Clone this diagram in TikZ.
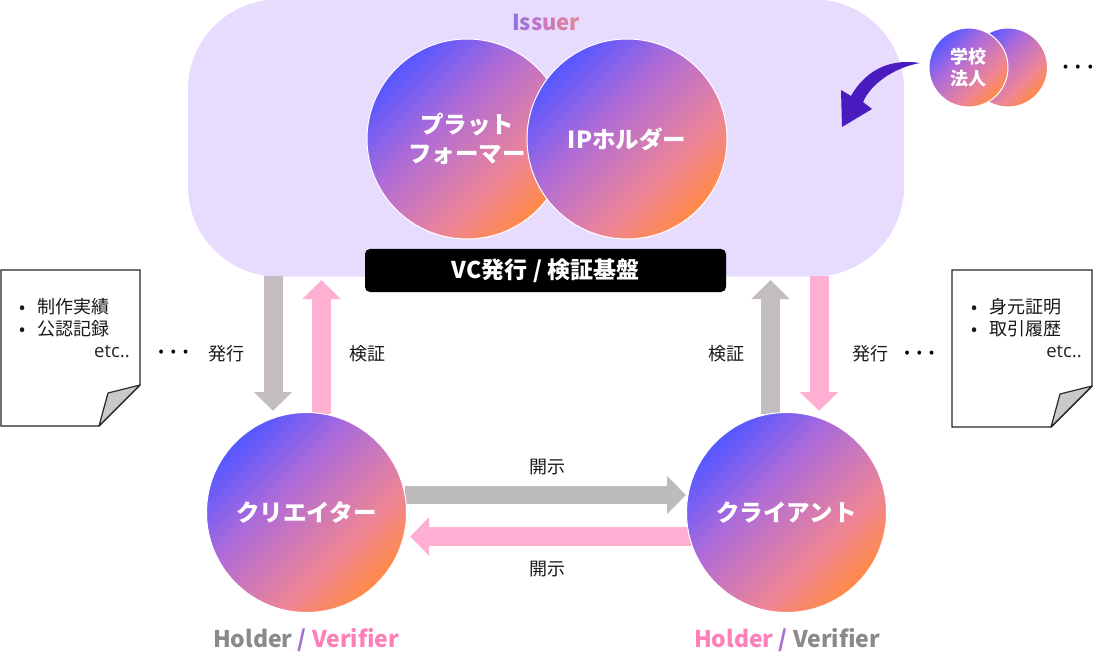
\documentclass[tikz,border=0pt]{standalone}
\usepackage{fontspec}
\setmainfont{Noto Sans CJK JP}
\newfontfamily\etcfont{Open Sans}
\usetikzlibrary{arrows.meta}
\definecolor{vcOr}{HTML}{FF8A4E}
\definecolor{vcPk}{HTML}{EE8596}
\definecolor{vcPu}{HTML}{AE6BD8}
\definecolor{vcBl}{HTML}{5A58FF}
\pgfdeclareverticalshading{vcgrad}{100bp}{
 color(0bp)=(vcOr); color(26bp)=(vcOr); color(37bp)=(vcPk); color(58bp)=(vcPu); color(74bp)=(vcBl); color(100bp)=(vcBl)}
\definecolor{issuerbg}{HTML}{E7DBFE}
\definecolor{arrgray}{HTML}{C3BDC2}
\definecolor{arrgrayb}{HTML}{BDBBBC}
\definecolor{arrpink}{HTML}{FFB0D2}
\definecolor{hgray}{HTML}{8C888E}
\definecolor{hpink}{HTML}{FF7FB8}
\definecolor{deep}{HTML}{4A1BBE}
\definecolor{slashc}{HTML}{A86FD0}
\definecolor{foldc}{HTML}{C9C8CA}
\tikzset{
 x=1pt,y=-1pt,
 role/.style={circle,inner sep=0pt,minimum size=200pt,shade,shading=vcgrad,shading angle=45,draw=white,line width=1pt,text=white,font=\fontsize{23.5}{29}\selectfont\bfseries,align=center},
 minirole/.style={role,minimum size=79pt,font=\fontsize{18}{22}\selectfont\bfseries},
 txtlabel/.style={inner sep=0pt,font=\fontsize{18}{22}\selectfont,text=black!90},
 docitem/.style={inner sep=0pt,anchor=west,font=\fontsize{18}{22}\selectfont,text=black!90},
 etcnote/.style={inner sep=0pt,anchor=east,font=\etcfont\fontsize{18.5}{22}\selectfont,text=black!85},
 dotrow/.style={inner sep=0pt,font=\fontsize{15}{16}\selectfont,text=black},
 sheet/.style={draw=black!85,line width=1.4pt,fill=white,line join=miter},
 foldcorner/.style={draw=black!85,line width=1.2pt,fill=foldc,line join=round},
 blockv/.style={line width=19pt,-{Triangle[width=37pt,length=19pt]}},
 blockh/.style={line width=18.5pt,-{Triangle[width=37pt,length=19pt]}},
 hvcap/.style={inner sep=0pt,font=\fontsize{23}{28}\selectfont\bfseries},
}
\newcommand{\dotsrow}{\makebox[12.3pt]{•}\makebox[12.3pt]{•}\makebox[12.3pt]{•}}
\newcommand{\bul}{\makebox[18.5pt][l]{•}}
\begin{document}
\begin{tikzpicture}
\useasboundingbox (0,0) rectangle (1110,668);
% issuer panel
\node[rectangle,rounded corners=90pt,fill=issuerbg,minimum width=716pt,minimum height=277pt,inner sep=0pt] (issuer) at (546,138) {};
\node[inner sep=0pt,font=\fontsize{22}{26}\selectfont\bfseries] (issuerlabel) at (546,22) {\textcolor[HTML]{8F72E0}{I}\textcolor[HTML]{A873D6}{s}\textcolor[HTML]{BC76C8}{s}\textcolor[HTML]{CC7ABA}{u}\textcolor[HTML]{D87FA8}{e}\textcolor[HTML]{E0829C}{r}};
% anchors of the block arrows
\coordinate (a1s) at (273,276); \coordinate (a1e) at (273,411);
\coordinate (a2s) at (321.5,414); \coordinate (a2e) at (321.5,280);
\coordinate (a3s) at (770.5,414); \coordinate (a3e) at (770.5,280);
\coordinate (a4s) at (819,276); \coordinate (a4e) at (819,411);
\coordinate (a5s) at (405,495); \coordinate (a5e) at (686,495);
\coordinate (a6s) at (695,536.5); \coordinate (a6e) at (410,536.5);
\draw[blockv,arrgray] (a1s) -- (a1e);
\draw[blockv,arrpink] (a2s) -- (a2e);
\draw[blockv,arrgray] (a3s) -- (a3e);
\draw[blockv,arrpink] (a4s) -- (a4e);
\draw[blockh,arrgrayb] (a5s) -- (a5e);
\draw[blockh,arrpink] (a6s) -- (a6e);
% platform circles
\node[role] (platform) at (467,139) {プラット\\フォーマー};
\node[role] (ip) at (627,139) {IPホルダー};
% base bar
\node[fill=black,rounded corners=5pt,minimum width=361pt,minimum height=43pt,inner sep=0pt,text=white,font=\fontsize{23}{26}\selectfont\bfseries] (base) at (545.5,270.5) {VC発行 / 検証基盤};
% small circles
\node[minirole] (back) at (1008,67.5) {};
\node[minirole] (school) at (968.5,67.5) {学校\\法人};
\node[dotrow] (dotsa) at (1078,68) {\dotsrow};
% curved arrow
\fill[deep] (920,63) .. controls (895,59) and (868,66) .. (851,96) -- (841,90) -- (842,127) -- (872,109) -- (863,102) .. controls (871,84) and (893,68) .. (920,63) -- cycle;
% holders
\node[role] (creator) at (306.5,512.5) {クリエイター};
\node[role] (client) at (786.5,512.5) {クライアント};
% left document
\draw[sheet] (1,270) -- (140,270) -- (140,385) -- (99,426) -- (1,426) -- cycle;
\draw[foldcorner] (140,385) -- (108,393) -- (99,426) -- cycle;
\node[docitem] (l1) at (19,307) {\bul 制作実績};
\node[docitem] (l2) at (19,329) {\bul 公認記録};
\node[etcnote] (l3) at (130,352) {etc..};
\node[dotrow] (dotsb) at (173.5,353.5) {\dotsrow};
% right document
\draw[sheet] (952,270) -- (1092,270) -- (1092,386) -- (1051,427) -- (952,427) -- cycle;
\draw[foldcorner] (1092,386) -- (1060,394) -- (1051,427) -- cycle;
\node[docitem] (r1) at (971,307) {\bul 身元証明};
\node[docitem] (r2) at (971,329) {\bul 取引履歴};
\node[etcnote] (r3) at (1082,352) {etc..};
\node[dotrow] (dotsc) at (919.5,354) {\dotsrow};
% arrow labels
\node[txtlabel] (t1) at (226,354) {発行};
\node[txtlabel] (t2) at (367,354) {検証};
\node[txtlabel] (t3) at (726,354) {検証};
\node[txtlabel] (t4) at (870,354) {発行};
\node[txtlabel] (t5) at (547.5,467) {開示};
\node[txtlabel] (t6) at (547.5,569) {開示};
% role captions
\node[hvcap] (hl) at (306,640) {\textcolor{hgray}{Holder} \textcolor{slashc}{/} \textcolor{hpink}{Verifier}};
\node[hvcap] (hr) at (787,640) {\textcolor{hpink}{Holder} \textcolor{slashc}{/} \textcolor{hgray}{Verifier}};
\end{tikzpicture}
\end{document}
